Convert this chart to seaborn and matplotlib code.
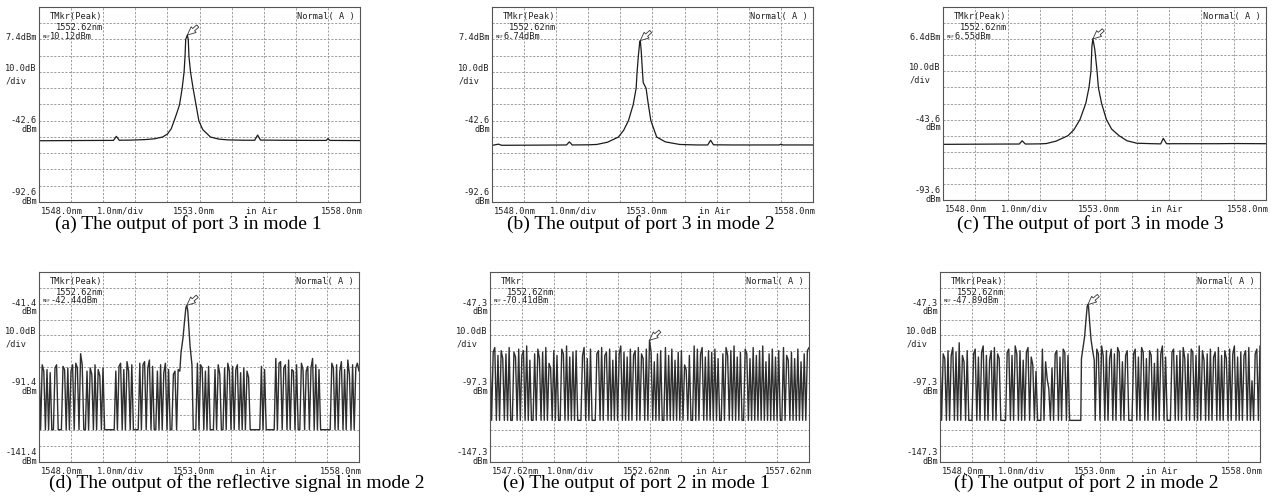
import numpy as np
import pandas as pd
import matplotlib
matplotlib.use("Agg")
import matplotlib.pyplot as plt
import seaborn as sns

sns.set_theme(style="white")
plt.rcParams['font.family'] = ['DejaVu Sans Mono']

# ---------------- data ----------------
# (a) port 3, mode 1
a_wl = [1548.0, 1549.0, 1550.0, 1550.32, 1550.41, 1550.5, 1550.9, 1551.3, 1551.6, 1551.85,
        1552.0, 1552.12, 1552.21, 1552.3, 1552.38, 1552.46, 1552.52, 1552.55, 1552.57, 1552.62,
        1552.65, 1552.67, 1552.72, 1552.80, 1552.89, 1552.98, 1553.1, 1553.34, 1553.6, 1553.9,
        1554.4, 1554.72, 1554.81, 1554.9, 1555.5, 1556.5, 1556.95, 1557.0, 1557.06, 1558.0]
a_db = [-54.9, -54.8, -54.7, -54.7, -52.2, -54.6, -54.5, -54.2, -53.7, -52.6,
        -50.8, -47.5, -42.6, -37.5, -32.6, -22.6, -12.6, -2.6, 7.4, 10.12,
        7.4, -2.6, -12.6, -22.6, -32.6, -42.6, -48.0, -52.6, -53.9, -54.4,
        -54.6, -54.6, -51.4, -54.5, -54.6, -54.7, -54.7, -53.6, -54.7, -54.8]

# (b) port 3, mode 2
b_wl = [1548.0, 1548.2, 1548.3, 1549.5, 1550.32, 1550.41, 1550.5, 1551.0, 1551.26, 1551.6,
        1551.94, 1552.1, 1552.25, 1552.40, 1552.49, 1552.52, 1552.56, 1552.60, 1552.62, 1552.65,
        1552.68, 1552.71, 1552.80, 1552.87, 1552.95, 1553.13, 1553.4, 1553.85, 1554.4, 1554.72,
        1554.81, 1554.9, 1555.5, 1556.5, 1556.95, 1557.0, 1557.06, 1558.0]
b_db = [-57.8, -57.0, -57.7, -57.6, -57.5, -55.6, -57.5, -57.4, -57.2, -55.8,
        -52.6, -48.5, -42.6, -32.6, -22.6, -12.6, -2.6, 5.5, 6.74, 0.0,
        -10.0, -19.1, -22.6, -32.6, -42.6, -52.6, -55.6, -57.2, -57.5, -57.5,
        -54.6, -57.4, -57.5, -57.5, -57.5, -57.0, -57.5, -57.5]

# (c) port 3, mode 3
c_wl = [1548.0, 1549.0, 1550.0, 1550.36, 1550.45, 1550.55, 1551.0, 1551.2, 1551.5, 1551.87,
        1552.05, 1552.24, 1552.34, 1552.42, 1552.52, 1552.58, 1552.61, 1552.64, 1552.70, 1552.77,
        1552.81, 1552.91, 1553.06, 1553.22, 1553.45, 1553.7, 1554.0, 1554.5, 1554.74, 1554.82,
        1554.92, 1555.5, 1556.5, 1557.0, 1558.0]
c_db = [-59.0, -58.9, -58.8, -58.8, -56.8, -58.8, -58.7, -58.5, -57.0, -53.6,
        -50.0, -43.6, -38.0, -33.6, -23.6, -13.6, 2.0, 6.55, 0.0, -13.6,
        -23.6, -33.6, -43.6, -49.5, -53.6, -56.8, -58.3, -58.6, -58.7, -55.3,
        -58.6, -58.6, -58.6, -58.5, -58.6]

# noisy traces: one reading every 0.05 nm over the 10 nm span (201 readings)
d_noise = [-78, -121, -80, -84, -121, -83, -121, -85, -121, -121,
           -82, -80, -121, -121, -121, -81, -83, -121, -82, -121,
           -84, -80, -121, -79, -82, -121, -73, -80, -121, -121,
           -84, -121, -82, -86, -121, -80, -121, -83, -87, -121,
           -82, -121, -121, -121, -121, -121, -121, -121, -84, -121,
           -81, -79, -121, -83, -121, -78, -84, -121, -80, -121,
           -121, -121, -121, -79, -121, -80, -78, -121, -82, -77,
           -121, -81, -121, -121, -84, -121, -80, -121, -85, -79,
           -121, -83, -121, -121, -86, -84, -121, -83, -121, -121,
           -121, -121, -121, -121, -121, -121, -121, -121, -121, -79,
           -121, -80, -82, -121, -84, -121, -81, -121, -121, -121,
           -83, -121, -80, -86, -121, -121, -82, -121, -79, -84,
           -121, -81, -121, -83, -80, -121, -85, -121, -82, -121,
           -84, -88, -121, -121, -121, -121, -121, -121, -121, -81,
           -121, -83, -121, -121, -121, -121, -121, -121, -76, -121,
           -79, -78, -121, -82, -80, -121, -77, -121, -83, -84,
           -121, -80, -121, -121, -79, -83, -121, -84, -81, -121,
           -82, -76, -121, -80, -121, -83, -121, -121, -121, -121,
           -121, -121, -121, -79, -82, -121, -80, -121, -84, -78,
           -121, -83, -121, -77, -86, -121, -80, -121, -82, -79,
           -84]
d_peak_wl = [1552.40, 1552.44, 1552.50, 1552.55, 1552.59, 1552.62, 1552.65, 1552.68, 1552.72, 1552.78, 1552.82]
d_peak_db = [-84, -72, -63, -52, -44, -42.44, -46, -55, -68, -80, -121]

e_noise = [-76, -121, -78, -75, -121, -80, -121, -77, -82, -121,
           -79, -121, -75, -121, -121, -78, -81, -121, -76, -121,
           -80, -77, -121, -74, -121, -83, -121, -121, -79, -121,
           -76, -82, -121, -78, -121, -75, -121, -85, -88, -121,
           -77, -121, -80, -121, -121, -76, -79, -121, -74, -121,
           -81, -121, -78, -121, -77, -121, -121, -121, -80, -75,
           -121, -82, -121, -76, -121, -121, -121, -79, -77, -121,
           -75, -121, -80, -78, -121, -76, -121, -83, -121, -77,
           -121, -79, -74, -121, -78, -121, -81, -121, -76, -121,
           -80, -77, -121, -75, -121, -79, -82, -121, -76, -121,
           -70.4, -78, -121, -84, -121, -79, -121, -77, -121, -121,
           -75, -121, -80, -121, -76, -121, -83, -121, -78, -121,
           -77, -121, -86, -89, -121, -80, -121, -121, -74, -121,
           -76, -121, -79, -75, -121, -81, -121, -77, -121, -78,
           -121, -76, -121, -82, -121, -121, -79, -121, -75, -80,
           -121, -77, -121, -74, -121, -81, -121, -78, -121, -121,
           -76, -79, -121, -82, -121, -75, -121, -80, -121, -77,
           -121, -74, -121, -84, -121, -79, -121, -76, -121, -81,
           -121, -77, -121, -121, -75, -121, -80, -83, -121, -78,
           -121, -82, -121, -76, -121, -84, -121, -79, -121, -77,
           -75]

f_noise = [-76, -121, -79, -82, -121, -77, -121, -80, -75, -121,
           -78, -121, -72, -121, -80, -84, -121, -77, -121, -121,
           -121, -79, -76, -121, -81, -121, -78, -74, -121, -80,
           -121, -83, -77, -121, -75, -121, -79, -82, -121, -121,
           -121, -121, -78, -76, -121, -80, -121, -74, -79, -121,
           -77, -121, -83, -121, -78, -75, -121, -81, -86, -121,
           -90, -121, -121, -121, -76, -121, -84, -95, -101, -121,
           -88, -121, -79, -77, -121, -81, -121, -76, -78, -121,
           -80, -121, -121, -121, -121, -121, -121, -121, -121, -121,
           -121, -121, -121, -121, -121, -121, -121, -121, -76, -79,
           -121, -74, -80, -121, -77, -121, -82, -76, -121, -79,
           -121, -75, -78, -121, -84, -121, -80, -77, -121, -121,
           -121, -79, -76, -121, -81, -121, -75, -78, -121, -82,
           -121, -77, -80, -121, -85, -121, -76, -121, -79, -74,
           -121, -81, -121, -121, -121, -78, -76, -121, -80, -121,
           -77, -121, -75, -82, -121, -79, -121, -76, -78, -121,
           -80, -121, -74, -121, -77, -83, -121, -79, -121, -76,
           -121, -81, -78, -121, -75, -121, -80, -121, -77, -82,
           -121, -76, -121, -79, -74, -121, -81, -121, -78, -121,
           -80, -77, -121, -75, -121, -96, -121, -79, -76, -121,
           -74]
f_peak_wl = [1552.40, 1552.42, 1552.47, 1552.52, 1552.56, 1552.60, 1552.62, 1552.64, 1552.68, 1552.72, 1552.77, 1552.82, 1552.85]
f_peak_db = [-121, -82, -75, -68, -58, -49, -47.89, -49, -60, -70, -77, -83, -121]

# panel settings / labels
span_start = [1548.0, 1548.0, 1548.0, 1548.0, 1547.62, 1548.0]
ref_level = [7.4, 7.4, 6.4, -41.4, -47.3, -47.3]
ref_label = ["7.4dBm", "7.4dBm", "6.4dBm", "-41.4", "-47.3", "-47.3"]
mid_label = ["-42.6", "-42.6", "-43.6", "-91.4", "-97.3", "-97.3"]
bot_label = ["-92.6", "-92.6", "-93.6", "-141.4", "-147.3", "-147.3"]
mkr_title = ["TMkr(Peak)"] * 4 + ["TMkr", "TMkr(Peak)"]
mkr_wl = [1552.62, 1552.62, 1552.64, 1552.62, 1552.62, 1552.62]
mkr_db = [10.12, 6.74, 6.55, -42.44, -70.41, -47.89]
mkr_text = ["10.12dBm", "6.74dBm", "6.55dBm", "-42.44dBm", "-70.41dBm", "-47.89dBm"]
x_left = ["1548.0nm"] * 4 + ["1547.62nm", "1548.0nm"]
x_mid = ["1553.0nm"] * 4 + ["1552.62nm", "1553.0nm"]
x_right = ["1558.0nm"] * 4 + ["1557.62nm", "1558.0nm"]
captions = ["(a) The output of port 3 in mode 1",
            "(b) The output of port 3 in mode 2",
            "(c) The output of port 3 in mode 3",
            "(d) The output of the reflective signal in mode 2",
            "(e) The output of port 2 in mode 1",
            "(f) The output of port 2 in mode 2"]
STEP = 0.05

# ---------------- build traces ----------------
def noisy(start, vals, pk_wl=None, pk_db=None):
    wl = np.round(start + STEP * np.arange(len(vals)), 3)
    db = np.array(vals, dtype=float)
    if pk_wl is not None:
        keep = (wl < pk_wl[0]) | (wl > pk_wl[-1])
        wl = np.concatenate([wl[keep], pk_wl])
        db = np.concatenate([db[keep], pk_db])
        o = np.argsort(wl)
        wl, db = wl[o], db[o]
    return pd.DataFrame({"wl": wl, "dbm": db})

traces = [pd.DataFrame({"wl": a_wl, "dbm": a_db}),
          pd.DataFrame({"wl": b_wl, "dbm": b_db}),
          pd.DataFrame({"wl": c_wl, "dbm": c_db}),
          noisy(span_start[3], d_noise, d_peak_wl, d_peak_db),
          noisy(span_start[4], e_noise),
          noisy(span_start[5], f_noise, f_peak_wl, f_peak_db)]

# axes boxes in pixels (x1, y1, x2, y2)
boxes = [(39, 7, 360, 202), (492, 7, 813, 202), (943, 7, 1266, 200),
         (39, 272, 359, 462), (490, 272, 809, 462), (940, 272, 1260, 462)]
cap_pos = [(188, 224), (641, 224), (1090, 224), (237, 483), (636, 483), (1086, 483)]

W, H = 1279, 500
fig = plt.figure(figsize=(W / 100, H / 100), dpi=100)
FS = 6.2
tc = "#222222"

for k in range(6):
    x1, y1, x2, y2 = boxes[k]
    ax = fig.add_axes([x1 / W, 1 - y2 / H, (x2 - x1) / W, (y2 - y1) / H])
    s0 = span_start[k]
    ref = ref_level[k]
    lo, hi = ref - 100, ref + 20
    if k < 3:
        sns.lineplot(data=traces[k], x="wl", y="dbm", ax=ax, color="#1c1c1c",
                     linewidth=0.9, estimator=None, sort=False)
    else:
        sns.lineplot(data=traces[k], x="wl", y="dbm", ax=ax, color="#2e2e2e",
                     linewidth=1.0, estimator=None, sort=False)
    ax.set_xlim(s0, s0 + 10)
    ax.set_ylim(lo, hi)
    ax.set_xticks(np.linspace(s0, s0 + 10, 11))
    ax.set_yticks(np.linspace(lo, hi, 13))
    ax.tick_params(length=0, labelbottom=False, labelleft=False)
    ax.set_xlabel("")
    ax.set_ylabel("")
    ax.grid(True, color="#9c9c9c", linestyle=(0, (2.2, 1.6)), linewidth=0.7)
    for sp in ax.spines.values():
        sp.set_color("#555555")
        sp.set_linewidth(0.8)
    ax.set_facecolor("white")

    fr = ax.transAxes
    yref = 100 / 120
    ymid = 50 / 120
    # left labels
    if ref_label[k].endswith("dBm"):
        ax.annotate(ref_label[k], (0, yref), xycoords=fr, xytext=(-1.5, 1.5),
                    textcoords="offset points", ha="right", va="center", fontsize=FS, color=tc)
    else:
        ax.annotate(ref_label[k], (0, yref), xycoords=fr, xytext=(-1.5, 0),
                    textcoords="offset points", ha="right", va="center", fontsize=FS, color=tc)
        ax.annotate("dBm", (0, yref), xycoords=fr, xytext=(-1.5, -6),
                    textcoords="offset points", ha="right", va="center", fontsize=FS, color=tc)
    ax.annotate("10.0dB", (0, 0.687), xycoords=fr, xytext=(-1.5, 0),
                textcoords="offset points", ha="right", va="center", fontsize=FS, color=tc)
    ax.annotate("/div", (0, 0.62), xycoords=fr, xytext=(-24.3, 0),
                textcoords="offset points", ha="left", va="center", fontsize=FS, color=tc)
    ax.annotate(mid_label[k], (0, ymid), xycoords=fr, xytext=(-1.5, 0),
                textcoords="offset points", ha="right", va="center", fontsize=FS, color=tc)
    ax.annotate("dBm", (0, ymid), xycoords=fr, xytext=(-1.5, -6),
                textcoords="offset points", ha="right", va="center", fontsize=FS, color=tc)
    ax.annotate(bot_label[k], (0, 0), xycoords=fr, xytext=(-1.5, 7),
                textcoords="offset points", ha="right", va="center", fontsize=FS, color=tc)
    ax.annotate("dBm", (0, 0), xycoords=fr, xytext=(-1.5, 0.5),
                textcoords="offset points", ha="right", va="center", fontsize=FS, color=tc)
    # bottom labels
    for txt, xf, ha in [(x_left[k], 0.005, "left"), ("1.0nm/div", 0.18, "left"),
                        (x_mid[k], 0.417, "left"), ("in Air", 0.645, "left"),
                        (x_right[k], 1.01, "right")]:
        ax.annotate(txt, (xf, 0), xycoords=fr, xytext=(0, -6.5),
                    textcoords="offset points", ha=ha, va="center", fontsize=FS, color=tc)
    # in-plot marker texts
    ax.annotate(mkr_title[k], (0, 1), xycoords=fr, xytext=(8, -6.5),
                textcoords="offset points", ha="left", va="center", fontsize=FS, color=tc)
    ax.annotate("1552.62nm", (0, 1), xycoords=fr, xytext=(12.5, -14.5),
                textcoords="offset points", ha="left", va="center", fontsize=FS, color=tc)
    ax.annotate("REF", (0, yref), xycoords=fr, xytext=(3, 0.3),
                textcoords="offset points", ha="left", va="bottom", fontsize=3.2, color=tc)
    ax.annotate(mkr_text[k], (0, yref), xycoords=fr, xytext=(8.2, 2),
                textcoords="offset points", ha="left", va="center", fontsize=FS, color=tc)
    ax.annotate("Normal( A )", (1, 1), xycoords=fr, xytext=(-3.5, -6.5),
                textcoords="offset points", ha="right", va="center", fontsize=FS, color=tc)
    # marker arrow
    ax.annotate("", xy=(mkr_wl[k], mkr_db[k]), xycoords="data",
                xytext=(7.5, 6.5), textcoords="offset points",
                arrowprops=dict(arrowstyle="simple,head_length=0.5,head_width=0.45,tail_width=0.18",
                                fc="white", ec="#333333", lw=0.6, shrinkA=0, shrinkB=0))

for k in range(6):
    cx, cy = cap_pos[k]
    fig.text(cx / W, 1 - cy / H, captions[k], ha="center", va="center",
             fontsize=14, family=["Liberation Serif", "DejaVu Serif"], color="black")

fig.savefig("out.png", dpi=100, facecolor="white")
